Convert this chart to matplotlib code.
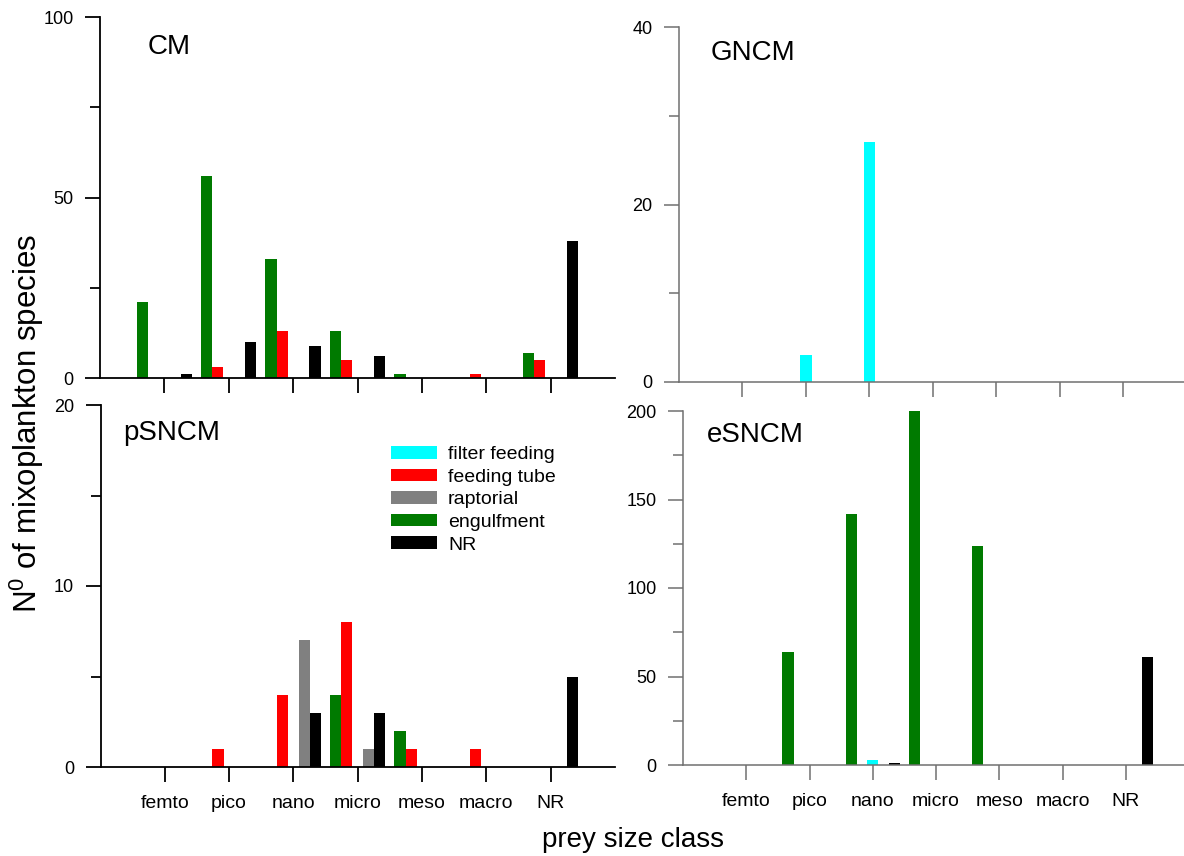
import matplotlib
matplotlib.use("Agg")
import matplotlib.pyplot as plt
import numpy as np
from matplotlib.patches import Patch

plt.rcParams['font.family'] = ['Liberation Sans', 'DejaVu Sans']
plt.rcParams['mathtext.fontset'] = 'custom'
plt.rcParams['mathtext.rm'] = 'Liberation Sans'
plt.rcParams['mathtext.it'] = 'Liberation Sans:italic'

# ---------------- data ----------------
categories = ['femto', 'pico', 'nano', 'micro', 'meso', 'macro', 'NR']
modes = ['filter feeding', 'feeding tube', 'raptorial', 'engulfment', 'NR']
mode_colors = ['#00FFFF', '#FF0000', '#808080', '#007A00', '#000000']
mode_slots = [0, -1, 1, -2, 2]

cm_filter = [0, 0, 0, 0, 0, 0, 0]
cm_tube = [0, 3, 13, 5, 0, 1, 5]
cm_rapt = [0, 0, 0, 0, 0, 0, 0]
cm_eng = [21, 56, 33, 13, 1, 0, 7]
cm_nr = [1, 10, 9, 6, 0, 0, 38]

gncm_filter = [0, 3, 27, 0, 0, 0, 0]
gncm_tube = [0, 0, 0, 0, 0, 0, 0]
gncm_rapt = [0, 0, 0, 0, 0, 0, 0]
gncm_eng = [0, 0, 0, 0, 0, 0, 0]
gncm_nr = [0, 0, 0, 0, 0, 0, 0]

psncm_filter = [0, 0, 0, 0, 0, 0, 0]
psncm_tube = [0, 1, 4, 8, 1, 1, 0]
psncm_rapt = [0, 0, 7, 1, 0, 0, 0]
psncm_eng = [0, 0, 0, 4, 2, 0, 0]
psncm_nr = [0, 0, 3, 3, 0, 0, 5]

esncm_filter = [0, 0, 3, 0, 0, 0, 0]
esncm_tube = [0, 0, 0, 0, 0, 0, 0]
esncm_rapt = [0, 0, 0, 0, 0, 0, 0]
esncm_eng = [0, 64, 142, 200, 124, 0, 0]
esncm_nr = [0, 0, 1, 0, 0, 0, 61]

panel_names = ['CM', 'GNCM', 'pSNCM', 'eSNCM']
panel_data = [
    [cm_filter, cm_tube, cm_rapt, cm_eng, cm_nr],
    [gncm_filter, gncm_tube, gncm_rapt, gncm_eng, gncm_nr],
    [psncm_filter, psncm_tube, psncm_rapt, psncm_eng, psncm_nr],
    [esncm_filter, esncm_tube, esncm_rapt, esncm_eng, esncm_nr],
]
panel_ymax = [100, 40, 20, 200]
panel_major = [50, 20, 10, 50]
panel_minor = [25, 10, 5, 25]

# ---------------- layout (pixels) ----------------
W, H = 1184, 856
fig = plt.figure(figsize=(W / 100, H / 100), dpi=100)

# left, top, right, bottom, xmax
boxes = [
    (100, 17, 615, 378, 7.0),
    (679, 27, 1184, 382, 6.96),
    (100.5, 405, 615, 767, 7.0),
    (683, 411, 1184, 765, 6.92),
]
label_pos = [(148, 54), (711, 60), (123, 440), (707, 442)]
spine_colors = ['black', '#707070', 'black', '#707070']

x = np.arange(len(categories))
slot = 0.171
bw = 0.178

for i, (name, data) in enumerate(zip(panel_names, panel_data)):
    l, t, r, b, xmax = boxes[i]
    ax = fig.add_axes([l / W, 1 - b / H, (r - l) / W, (b - t) / H])
    for vals, col, s in zip(data, mode_colors, mode_slots):
        ax.bar(x + s * slot, vals, width=bw, color=col, linewidth=0)
    ax.set_xlim(-1, xmax)
    ax.set_ylim(0, panel_ymax[i])
    ax.set_yticks(np.arange(0, panel_ymax[i] + 1, panel_major[i]))
    ax.set_yticks(np.arange(panel_minor[i], panel_ymax[i], panel_major[i]), minor=True)
    ax.set_xticks(x)
    if i >= 2:
        ax.set_xticklabels(categories, fontsize=14)
    else:
        ax.set_xticklabels([])
    for sp in ['top', 'right']:
        ax.spines[sp].set_visible(False)
    sc = spine_colors[i]
    lw = 1.3 if sc == 'black' else 1.1
    for sp in ['left', 'bottom']:
        ax.spines[sp].set_color(sc)
        ax.spines[sp].set_linewidth(lw)
    ax.tick_params(axis='both', which='major', direction='out', length=11,
                   width=lw, color=sc, labelsize=13, pad=8)
    ax.tick_params(axis='y', which='minor', direction='out', length=7.5,
                   width=lw, color=sc)
    ax.tick_params(axis='x', which='major', pad=9, labelsize=14)
    ax.set_facecolor('none')
    fig.text(label_pos[i][0] / W, 1 - label_pos[i][1] / H, name, fontsize=20,
             ha='left', va='baseline')
    if name == 'pSNCM':
        handles = [Patch(facecolor=c, edgecolor='none', label=m)
                   for m, c in zip(modes, mode_colors)]
        ax.legend(handles=handles, loc='upper left',
                  bbox_to_anchor=((391 - l) / (r - l), 1 - (446 - t) / (b - t)),
                  frameon=False, fontsize=14, handlelength=2.39,
                  handleheight=0.62, labelspacing=0.28, handletextpad=0.54,
                  borderaxespad=0, borderpad=0)

fig.text(27 / W, 1 - 424 / H, r'N$^{0}$ of mixoplankton species', rotation=90,
         fontsize=22.5, ha='center', va='center')
fig.text(633 / W, 1 - 840 / H, 'prey size class', fontsize=20,
         ha='center', va='center')

fig.savefig('out.png', dpi=100)
